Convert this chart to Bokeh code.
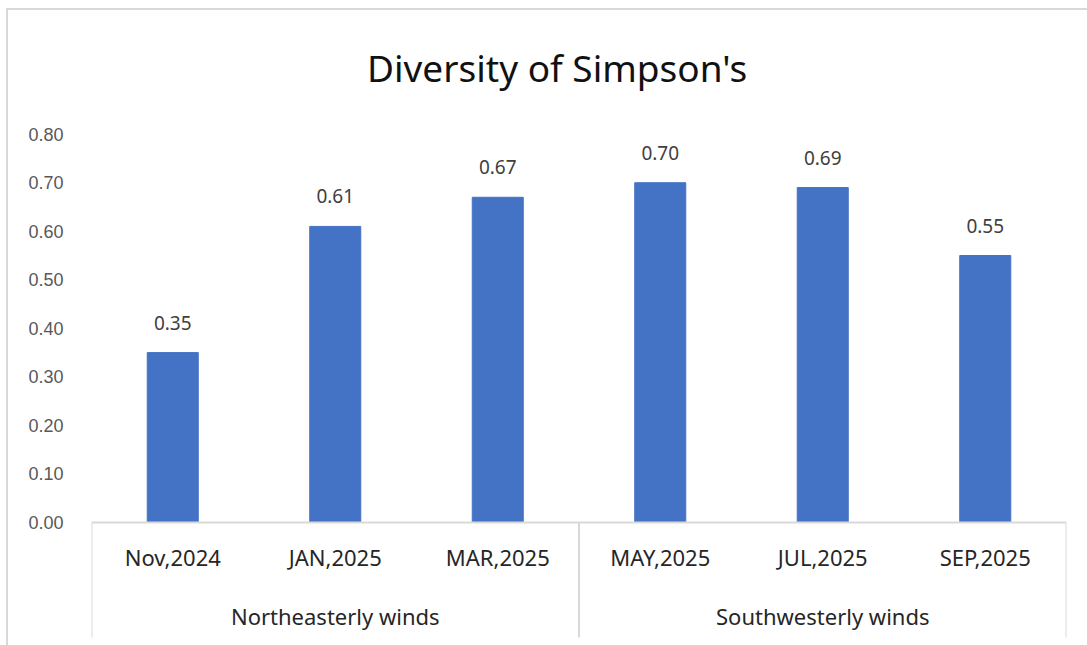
from bokeh.plotting import figure
from bokeh.models import ColumnDataSource, FactorRange, Range1d, FixedTicker
from bokeh.core.properties import value
from bokeh.embed import file_html
from bokeh.resources import INLINE

# ---- data ----
title_text = "Diversity of Simpson's"
groups = ["Northeasterly winds", "Northeasterly winds", "Northeasterly winds",
          "Southwesterly winds", "Southwesterly winds", "Southwesterly winds"]
months = ["Nov,2024", "JAN,2025", "MAR,2025", "MAY,2025", "JUL,2025", "SEP,2025"]
simpson = [0.35, 0.61, 0.67, 0.70, 0.69, 0.55]
y_ticks = [0.0, 0.1, 0.2, 0.3, 0.4, 0.5, 0.6, 0.7, 0.8]
y_tick_labels = ["0.00", "0.10", "0.20", "0.30", "0.40", "0.50", "0.60", "0.70", "0.80"]
group_names = ["Northeasterly winds", "Southwesterly winds"]

factors = list(zip(groups, months))

BAR = "#4472C4"
LINE = "#d9d9d9"

p = figure(width=1087, height=645,
           x_range=FactorRange(*factors, factor_padding=0, group_padding=0,
                               subgroup_padding=0, range_padding=0),
           y_range=Range1d(-0.2534, 1.0754),
           x_axis_location=None,
           output_backend="svg", toolbar_location=None,
           min_border_left=91, min_border_right=21,
           min_border_top=0, min_border_bottom=0)
p.outline_line_color = None
p.background_fill_color = None
p.border_fill_color = None
p.styles = {
    "background": ("linear-gradient(#d9d9d9, #d9d9d9) 6px 8px / 2px 100% no-repeat, "
                   "linear-gradient(#d9d9d9, #d9d9d9) 6px 8px / 100% 2px no-repeat, white"),
}
p.xgrid.grid_line_color = None
p.ygrid.grid_line_color = None

# y axis
p.yaxis.ticker = FixedTicker(ticks=y_ticks)
p.yaxis.major_label_overrides = {t: l for t, l in zip(y_ticks, y_tick_labels)}
p.yaxis.axis_line_color = None
p.yaxis.major_tick_line_color = None
p.yaxis.minor_tick_line_color = None
p.yaxis.major_tick_out = 0
p.yaxis.major_tick_in = 0
p.yaxis.major_label_standoff = 28
p.yaxis.major_label_text_font = "Liberation Sans"
p.yaxis.major_label_text_font_size = "18px"
p.yaxis.major_label_text_color = "#595959"

src = ColumnDataSource(dict(x=factors, value=simpson,
                            label=["%.2f" % v for v in simpson],
                            month=months))

# bars
p.vbar(x="x", top="value", bottom=0, width=0.314, source=src,
       fill_color=BAR, line_color=BAR, line_width=1)

# data labels
p.text(x="x", y="value", text="label", source=src,
       text_align="center", text_baseline="alphabetic", y_offset=-30,
       text_font=value("Noto Sans"), text_font_size="19px", text_color="#404040")

# category axis line and separators
first, last = factors[0], factors[-1]
p.segment(x0=[tuple(first) + (-0.5,)], y0=[0], x1=[tuple(last) + (0.5,)], y1=[0],
          line_color=LINE, line_width=2)
sep_x = []
for i, f in enumerate(factors):
    if i == 0 or groups[i] != groups[i - 1]:
        sep_x.append(tuple(f) + (-0.5,))
sep_x.append(tuple(last) + (0.5,))
p.segment(x0=sep_x, y0=[0] * len(sep_x), x1=sep_x, y1=[-0.2369] * len(sep_x),
          line_color=LINE, line_width=2)

# category labels
p.text(x="x", y=-0.0721, text="month", source=src,
       text_align="center", text_baseline="alphabetic",
       text_font=value("Noto Sans"), text_font_size="22px", text_color="#262626")
# group labels
gsrc = ColumnDataSource(dict(x=group_names, name=group_names))
p.text(x="x", y=-0.1916, text="name", source=gsrc,
       text_align="center", text_baseline="alphabetic",
       text_font=value("Noto Sans"), text_font_size="22px", text_color="#262626")

# title
p.text(x=[2.865], y=[0.9373], text=[title_text],
       text_align="center", text_baseline="alphabetic",
       text_font=value("Noto Sans"), text_font_size="37px", text_color="#111111")

open("out.html", "w").write(file_html(p, INLINE))
